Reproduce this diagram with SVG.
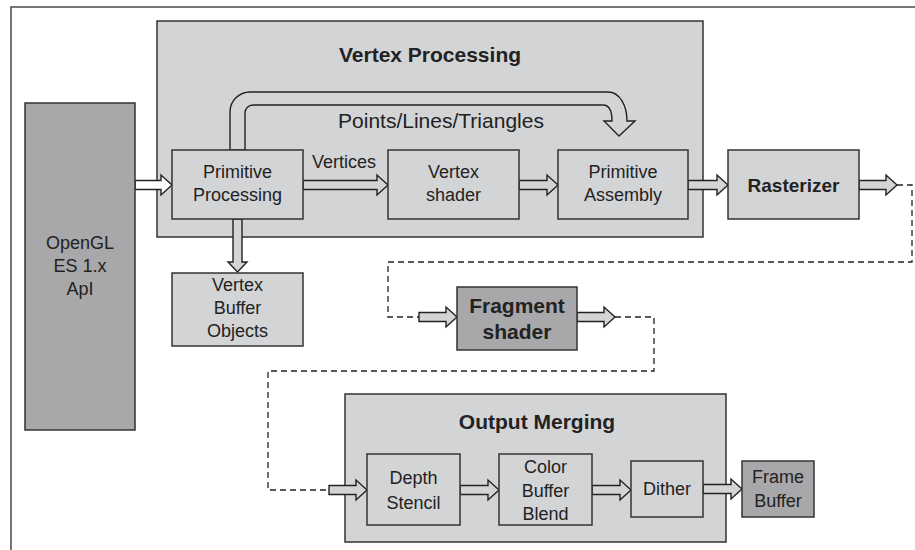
<svg xmlns="http://www.w3.org/2000/svg" width="915" height="550" viewBox="0 0 915 550">
<style>
.frame{fill:#fff;stroke:#555;stroke-width:1.6}
.grp{fill:#d3d4d6;stroke:#333;stroke-width:1.5}
.box{fill:#d3d4d6;stroke:#333;stroke-width:1.5}
.dark{fill:#a8a8aa;stroke:#333;stroke-width:1.5}
.arr{fill:#d3d4d6;stroke:#222;stroke-width:1.4;stroke-linejoin:miter}
.dash{fill:none;stroke:#222;stroke-width:1.3;stroke-dasharray:6 4}
text{font-family:"Liberation Sans",Arial,sans-serif;fill:#222;text-anchor:middle}
.t{font-size:18px}
.p{font-size:21px}
.b{font-size:19px;font-weight:bold}
.f{font-size:21px;font-weight:bold}
.h{font-size:21px;font-weight:bold}
</style>
<rect class="frame" x="11" y="7" width="1000" height="600"/>
<g id="vertex-processing">
<rect class="grp" x="157" y="21" width="546" height="216"/>
<text class="h" x="430" y="62">Vertex Processing</text>
</g>
<g id="output-merging">
<rect class="grp" x="345" y="394" width="381" height="148"/>
<text class="h" x="537" y="429">Output Merging</text>
</g>
<g id="connectors">
<path class="dash" d="M897 185 H912 V262 H388 V317 H419"/>
<path class="dash" d="M615 317 H654 V371 H268 V490 H329"/>
<path class="arr" d="M230 150 V112 A20 20 0 0 1 250 92 H608 C620 92 627 106 627 121 H635 L619 136 L604 121 H612 C612 111 609 105 603 105 H253 A8 8 0 0 0 245 113 V150 Z"/>
<path class="arr" style="fill:#fff" d="M135 180.5 H161 V175 L172 185 L161 195 V189.5 H135 Z"/>
<path class="arr" d="M303 180.5 H377 V175 L388 185 L377 195 V189.5 H303 Z"/>
<path class="arr" d="M519 180.5 H547 V175 L558 185 L547 195 V189.5 H519 Z"/>
<path class="arr" d="M688 180.5 H717 V175 L728 185 L717 195 V189.5 H688 Z"/>
<path class="arr" d="M859 180.5 H886 V175 L897 185 L886 195 V189.5 H859 Z"/>
<path class="arr" d="M233 219 V262 H228 L237.5 272 L247 262 H242 V219 Z"/>
<path class="arr" d="M419 312.5 H446 V307 L457 317 L446 327 V321.5 H419 Z"/>
<path class="arr" d="M577 312.5 H604 V307 L615 317 L604 327 V321.5 H577 Z"/>
<path class="arr" d="M329 485.5 H356 V480 L367 490 L356 500 V494.5 H329 Z"/>
<path class="arr" d="M460 485.5 H488 V480 L499 490 L488 500 V494.5 H460 Z"/>
<path class="arr" d="M592 485.5 H620 V480 L631 490 L620 500 V494.5 H592 Z"/>
<path class="arr" d="M703 484.5 H731 V479 L742 489 L731 499 V493.5 H703 Z"/>
<text class="t" x="344" y="168">Vertices</text>
<text class="p" x="441" y="128">Points/Lines/Triangles</text>
</g>
<g id="opengl">
<rect class="dark" x="25" y="103" width="110" height="327"/>
<text class="t" x="80" y="249">OpenGL</text>
<text class="t" x="80" y="272">ES 1.x</text>
<text class="t" x="80" y="295">ApI</text>
</g>
<g id="primitive-processing">
<rect class="box" x="172" y="150" width="131" height="69"/>
<text class="t" x="237.5" y="178">Primitive</text>
<text class="t" x="237.5" y="201">Processing</text>
</g>
<g id="vertex-shader">
<rect class="box" x="388" y="150" width="131" height="69"/>
<text class="t" x="453.5" y="178">Vertex</text>
<text class="t" x="453.5" y="201">shader</text>
</g>
<g id="primitive-assembly">
<rect class="box" x="558" y="150" width="130" height="69"/>
<text class="t" x="623" y="178">Primitive</text>
<text class="t" x="623" y="201">Assembly</text>
</g>
<g id="rasterizer">
<rect class="box" x="728" y="150" width="131" height="69"/>
<text class="b" x="793.5" y="192">Rasterizer</text>
</g>
<g id="vbo">
<rect class="box" x="172" y="273" width="131" height="73"/>
<text class="t" x="237.5" y="291">Vertex</text>
<text class="t" x="237.5" y="314">Buffer</text>
<text class="t" x="237.5" y="337">Objects</text>
</g>
<g id="fragment-shader">
<rect class="dark" x="457" y="287" width="120" height="63"/>
<text class="f" x="517" y="313">Fragment</text>
<text class="f" x="517" y="339">shader</text>
</g>
<g id="depth-stencil">
<rect class="box" x="367" y="454" width="93" height="71"/>
<text class="t" x="413.5" y="484">Depth</text>
<text class="t" x="413.5" y="509">Stencil</text>
</g>
<g id="color-buffer-blend">
<rect class="box" x="499" y="454" width="93" height="71"/>
<text class="t" x="545.5" y="473">Color</text>
<text class="t" x="545.5" y="497">Buffer</text>
<text class="t" x="545.5" y="520">Blend</text>
</g>
<g id="dither">
<rect class="box" x="631" y="461" width="72" height="56"/>
<text class="t" x="667" y="495">Dither</text>
</g>
<g id="frame-buffer">
<rect class="dark" x="742" y="461" width="72" height="56"/>
<text class="t" x="778" y="483">Frame</text>
<text class="t" x="778" y="507">Buffer</text>
</g>
</svg>
